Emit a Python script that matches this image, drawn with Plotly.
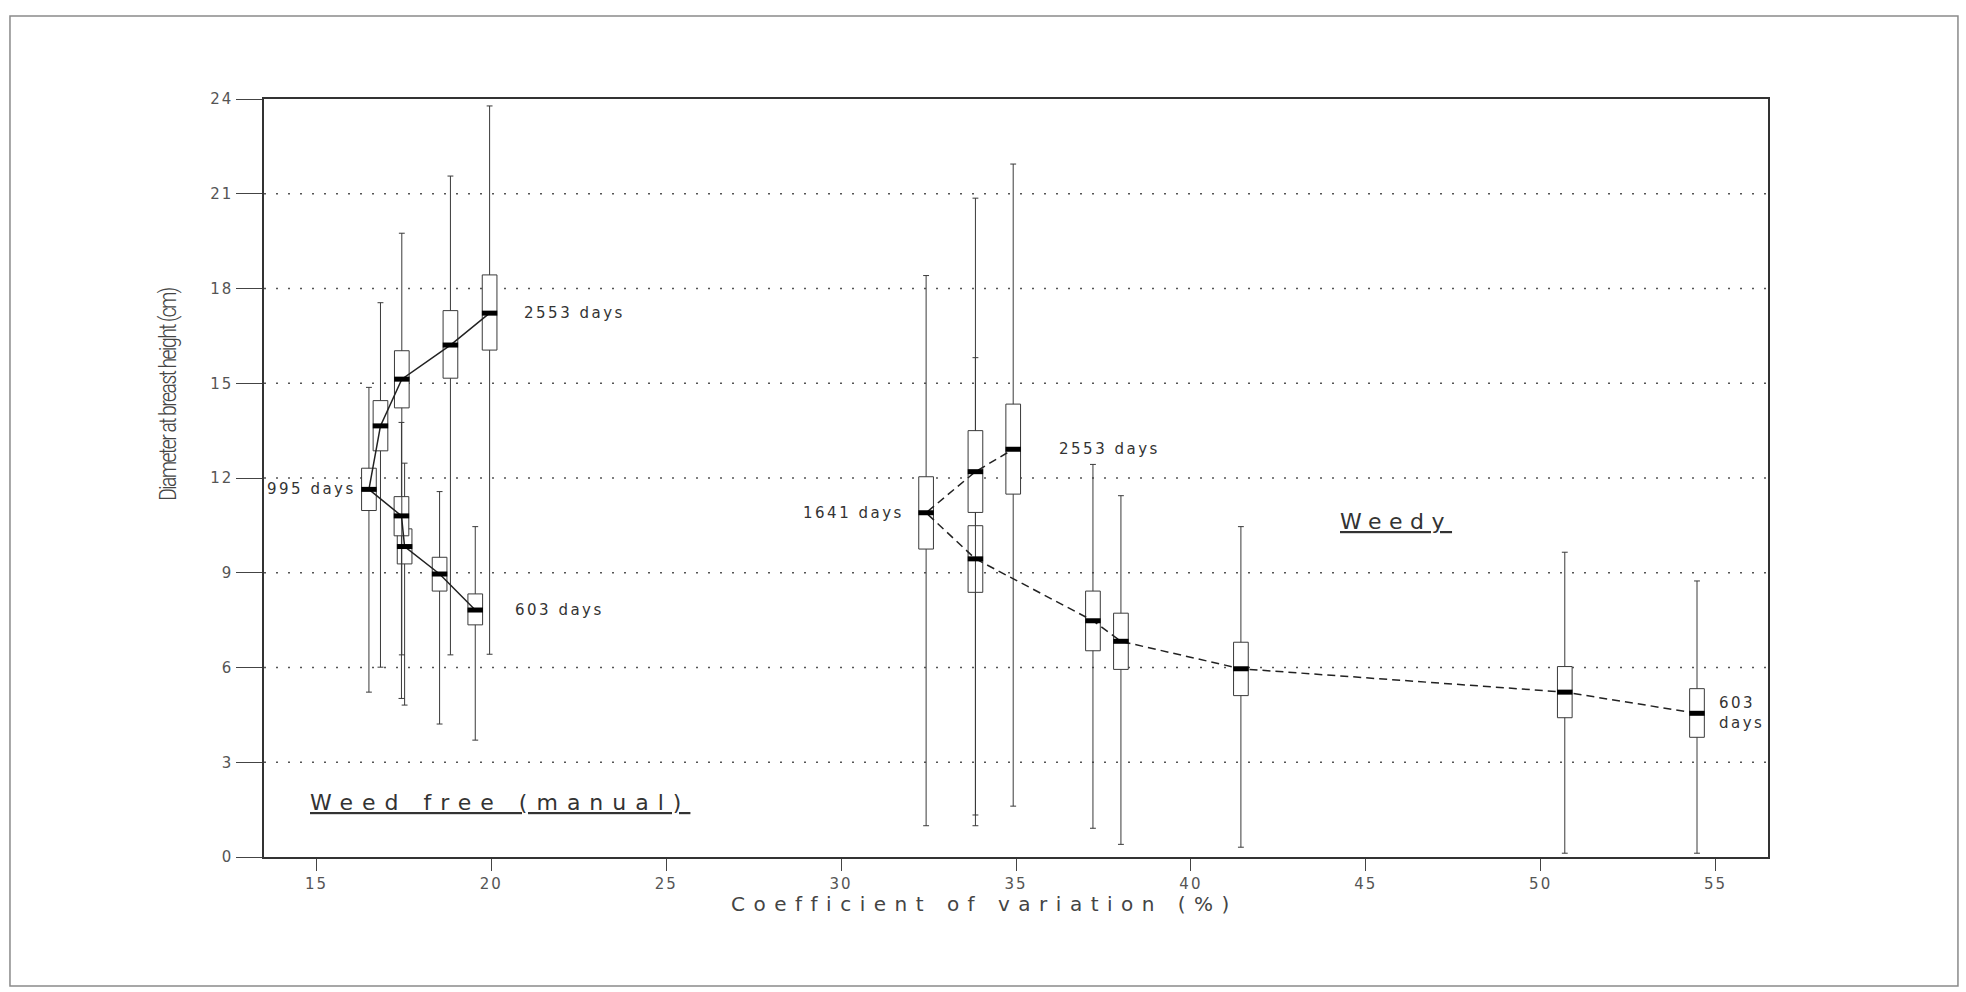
import plotly.graph_objects as go

# Tree diameter vs. coefficient of variation, two weed-control regimes.
# Each regime: nine sampling dates (603 days ... 2553 days), in time order.

# Weed free (manual)
wf_cv = [19.54, 18.52, 17.52, 17.43, 16.50, 16.83, 17.44, 18.83, 19.95]
wf_median = [7.82, 8.96, 9.83, 10.80, 11.64, 13.65, 15.13, 16.21, 17.22]
wf_q1 = [7.35, 8.42, 9.28, 10.17, 10.97, 12.86, 14.22, 15.16, 16.05]
wf_q3 = [8.33, 9.49, 10.39, 11.41, 12.31, 14.45, 16.03, 17.30, 18.43]
wf_min = [3.70, 4.21, 4.81, 5.02, 5.22, 6.01, 6.40, 6.40, 6.42]
wf_max = [10.46, 11.57, 12.47, 13.76, 14.87, 17.55, 19.75, 21.56, 23.78]

# Weedy
wd_cv = [54.47, 50.69, 41.43, 38.00, 37.20, 33.84, 32.43, 33.84, 34.92]
wd_median = [4.55, 5.22, 5.96, 6.83, 7.48, 9.44, 10.90, 12.20, 12.91]
wd_q1 = [3.79, 4.41, 5.11, 5.94, 6.53, 8.38, 9.75, 10.91, 11.49]
wd_q3 = [5.33, 6.03, 6.80, 7.72, 8.42, 10.49, 12.04, 13.50, 14.34]
wd_min = [0.12, 0.12, 0.31, 0.40, 0.91, 0.99, 0.99, 1.33, 1.61]
wd_max = [8.74, 9.65, 10.46, 11.44, 12.43, 15.81, 18.41, 20.86, 21.94]

x_ticks = [15, 20, 25, 30, 35, 40, 45, 50, 55]
y_ticks = [0, 3, 6, 9, 12, 15, 18, 21, 24]
grid_levels = [3, 6, 9, 12, 15, 18, 21]

INK = "#222222"
BOX_LINE = "#3a3a3a"
FONT = "DejaVu Sans"

fig = go.Figure()


def add_boxes(cv, q1, med, q3, lo, hi):
    fig.add_trace(go.Box(
        x=cv, q1=q1, median=med, q3=q3, lowerfence=lo, upperfence=hi,
        width=0.42, whiskerwidth=0.4, boxpoints=False,
        fillcolor="white", line=dict(color=BOX_LINE, width=1),
        hoverinfo="skip", showlegend=False,
    ))


add_boxes(wf_cv, wf_q1, wf_median, wf_q3, wf_min, wf_max)
add_boxes(wd_cv, wd_q1, wd_median, wd_q3, wd_min, wd_max)

median_marker = dict(symbol="line-ew", size=11, color="black",
                     line=dict(color="black", width=5))

fig.add_trace(go.Scatter(
    x=wf_cv, y=wf_median, mode="lines+markers",
    line=dict(color=INK, width=1.5),
    marker=median_marker, hoverinfo="skip", showlegend=False,
))
fig.add_trace(go.Scatter(
    x=wd_cv, y=wd_median, mode="lines+markers",
    line=dict(color=INK, width=1.5, dash="8px,5px"),
    marker=median_marker, hoverinfo="skip", showlegend=False,
))


def spaced(text, px):
    return f'<span style="letter-spacing:{px}px">{text}</span>'


label_font = dict(family=FONT, size=15, color="#333333")
day_labels = [
    (wf_cv[4] - 0.32, wf_median[4], "995 days", "right"),
    (wf_cv[8] + 0.94, wf_median[8], "2553 days", "left"),
    (wf_cv[0] + 1.07, wf_median[0], "603 days", "left"),
    (wd_cv[6] - 0.57, wd_median[6], "1641 days", "right"),
    (wd_cv[8] + 1.26, wd_median[8], "2553 days", "left"),
    (wd_cv[0] + 0.57, wd_median[0], "603<br>days", "left"),
]
for x, y, txt, anchor in day_labels:
    fig.add_annotation(x=x, y=y, xref="x", yref="y", text=spaced(txt, 2.5),
                       xanchor=anchor, yanchor="middle", showarrow=False,
                       font=label_font, align="left")

panel_font = dict(family=FONT, size=22, color="#333333")
fig.add_annotation(x=14.75, y=1.71, xref="x", yref="y",
                   text="<u>" + spaced("Weed free (manual)", 9) + "</u>",
                   xanchor="left", yanchor="middle", showarrow=False,
                   font=panel_font)
fig.add_annotation(x=44.21, y=10.62, xref="x", yref="y",
                   text="<u>" + spaced("Weedy", 7.5) + "</u>",
                   xanchor="left", yanchor="middle", showarrow=False,
                   font=panel_font)

# Axis titles
fig.add_annotation(x=-0.063, y=0.611, xref="paper", yref="paper",
                   text='<span style="font-stretch:condensed;letter-spacing:-2px">'
                        'Diameter at breast height (cm)</span>',
                   textangle=-90,
                   xanchor="center", yanchor="middle", showarrow=False,
                   font=dict(family="Roboto", size=23, weight=300,
                             color="#444444"))
fig.add_annotation(x=0.479, y=-0.062, xref="paper", yref="paper",
                   text=spaced("Coefficient of variation (%)", 8.5),
                   xanchor="center", yanchor="middle", showarrow=False,
                   font=dict(family=FONT, size=20, color="#444444"))

# Outer frame around the whole figure
fig.add_shape(type="rect", xref="paper", yref="paper",
              x0=-0.1689, x1=1.1263, y0=-0.1702, y1=1.1095,
              line=dict(color="#8a8a8a", width=1.5), fillcolor="rgba(0,0,0,0)")

tick_font = dict(family=FONT, size=15, color="#555555")
fig.update_layout(
    width=1966, height=992,
    margin=dict(l=264, r=198, t=99, b=135, autoexpand=False),
    paper_bgcolor="white", plot_bgcolor="white",
    boxmode="overlay", showlegend=False,
    xaxis=dict(
        range=[13.5, 56.5], tickvals=x_ticks,
        ticktext=[spaced(str(v), 2) for v in x_ticks],
        ticks="outside", ticklen=12, tickwidth=1, tickcolor="#444444",
        showgrid=False, zeroline=False, showline=True, mirror=True,
        linecolor="#333333", linewidth=1.5, tickfont=tick_font,
        automargin=False,
    ),
    yaxis=dict(
        range=[0, 24], tickvals=y_ticks,
        ticktext=[spaced(str(v), 2) for v in y_ticks],
        ticks="outside", ticklen=26, tickwidth=1, tickcolor="#444444",
        showgrid=False, zeroline=False, showline=True, mirror=True,
        linecolor="#333333", linewidth=1.5, tickfont=tick_font,
        automargin=False,
    ),
)

# Dotted reference lines at each interior y tick
for g in grid_levels:
    fig.add_shape(type="line", xref="paper", yref="y", x0=0, x1=1, y0=g, y1=g,
                  line=dict(color="#555555", width=1.5, dash="2px,10px"),
                  layer="below")

fig.write_html("out.html")
